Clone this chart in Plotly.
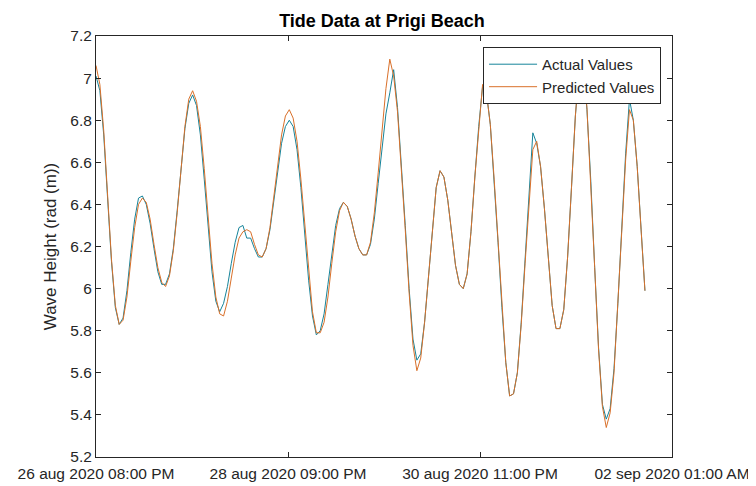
import pandas as pd
import plotly.graph_objects as go

start = pd.Timestamp("2020-08-26 20:00")

actual_values = [
    7.01, 6.94, 6.73, 6.43, 6.13, 5.91, 5.83, 5.86, 5.99, 6.17,
    6.33, 6.43, 6.44, 6.40, 6.31, 6.19, 6.08, 6.02, 6.02, 6.07,
    6.19, 6.37, 6.57, 6.76, 6.88, 6.92, 6.87, 6.73, 6.52, 6.29,
    6.08, 5.94, 5.89, 5.93, 6.01, 6.12, 6.22, 6.29, 6.30, 6.24,
    6.24, 6.19, 6.15, 6.15, 6.19, 6.28, 6.41, 6.56, 6.69, 6.77,
    6.80, 6.77, 6.66, 6.48, 6.26, 6.04, 5.87, 5.78, 5.80, 5.88,
    6.02, 6.17, 6.30, 6.38, 6.41, 6.39, 6.33, 6.25, 6.19, 6.16,
    6.16, 6.21, 6.33, 6.50, 6.68, 6.83, 6.93, 7.04, 6.86, 6.60,
    6.30, 6.00, 5.76, 5.66, 5.69, 5.84, 6.06, 6.30, 6.48, 6.56,
    6.53, 6.42, 6.26, 6.11, 6.02, 6.00, 6.07, 6.27, 6.53, 6.77,
    6.96, 6.93, 6.78, 6.52, 6.22, 5.91, 5.65, 5.49, 5.50, 5.60,
    5.84, 6.14, 6.45, 6.74, 6.69, 6.58, 6.38, 6.13, 5.92, 5.81,
    5.81, 5.90, 6.15, 6.48, 6.82, 7.04, 7.06, 6.85, 6.51, 6.10,
    5.72, 5.45, 5.38, 5.43, 5.62, 5.93, 6.29, 6.64, 6.90, 6.80,
    6.58, 6.28, 5.99,
]

predicted_values = [
    7.06, 6.97, 6.75, 6.44, 6.14, 5.92, 5.83, 5.85, 5.96, 6.13,
    6.29, 6.40, 6.43, 6.41, 6.33, 6.21, 6.10, 6.03, 6.01, 6.06,
    6.18, 6.36, 6.57, 6.77, 6.90, 6.94, 6.89, 6.77, 6.57, 6.34,
    6.12, 5.96, 5.88, 5.87, 5.94, 6.05, 6.16, 6.24, 6.27, 6.28,
    6.27, 6.21, 6.16, 6.15, 6.19, 6.29, 6.43, 6.59, 6.73, 6.82,
    6.85, 6.81, 6.70, 6.52, 6.30, 6.07, 5.89, 5.79, 5.79, 5.84,
    5.96, 6.12, 6.27, 6.37, 6.41, 6.39, 6.33, 6.25, 6.19, 6.16,
    6.16, 6.22, 6.36, 6.55, 6.76, 6.95, 7.09, 7.01, 6.84, 6.58,
    6.28, 5.98, 5.73, 5.61, 5.67, 5.84, 6.06, 6.30, 6.48, 6.56,
    6.53, 6.42, 6.26, 6.11, 6.02, 6.00, 6.07, 6.27, 6.53, 6.77,
    6.97, 6.93, 6.78, 6.52, 6.22, 5.91, 5.65, 5.49, 5.50, 5.60,
    5.83, 6.12, 6.41, 6.66, 6.70, 6.58, 6.38, 6.13, 5.92, 5.81,
    5.81, 5.90, 6.15, 6.48, 6.82, 7.05, 7.07, 6.86, 6.51, 6.10,
    5.71, 5.44, 5.34, 5.41, 5.60, 5.91, 6.27, 6.61, 6.85, 6.80,
    6.58, 6.28, 5.99,
]

times = pd.date_range(start, periods=len(actual_values), freq="h")

x_end = pd.Timestamp("2020-09-02 01:00")
span = x_end - start
tick_positions = [start + span * k / 3 for k in range(4)]
tick_labels = [
    "26 aug 2020 08:00 PM",
    "28 aug 2020 09:00 PM",
    "30 aug 2020 11:00 PM",
    "02 sep 2020 01:00 AM",
]
y_ticks = [5.2, 5.4, 5.6, 5.8, 6, 6.2, 6.4, 6.6, 6.8, 7, 7.2]

fig = go.Figure()
fig.add_trace(go.Scatter(x=times, y=actual_values, mode="lines", name="Actual Values",
                         line=dict(color="#16849a", width=1)))
fig.add_trace(go.Scatter(x=times, y=predicted_values, mode="lines", name="Predicted Values",
                         line=dict(color="#d9702a", width=1)))

font_family = "Liberation Sans, Arial, sans-serif"
axis_common = dict(showgrid=False, zeroline=False, showline=True, linecolor="#262626",
                   linewidth=1, mirror="ticks", ticks="inside", ticklen=5, automargin=False,
                   tickcolor="#262626", tickfont=dict(family=font_family, size=15.5, color="#262626"))

W, H = 748, 478
fig.update_layout(
    width=W, height=H,
    paper_bgcolor="white", plot_bgcolor="white",
    margin=dict(l=88, r=84, t=28, b=29, autoexpand=False),
    title=dict(text="<b>Tide Data at Prigi Beach</b>", x=0.5, xanchor="center",
               yref="container", y=1 - 13 / H, yanchor="middle",
               font=dict(family=font_family, size=18, color="black")),
    xaxis=dict(range=[start, x_end], tickvals=tick_positions, ticktext=tick_labels,
               ticklabelstandoff=2, **axis_common),
    yaxis=dict(range=[5.2, 7.2], tickvals=y_ticks,
               ticktext=[("%g" % v) for v in y_ticks],
               title=dict(text="Wave Height (rad (m))", standoff=9,
                          font=dict(family=font_family, size=17, color="#262626")),
               **axis_common),
    legend=dict(x=0.672, xanchor="left", y=0.974, yanchor="top",
                bgcolor="white", bordercolor="#262626", borderwidth=1,
                font=dict(family=font_family, size=15, color="#262626"),
                tracegroupgap=0, itemwidth=48),
    showlegend=True,
)

fig.write_html("out.html")
